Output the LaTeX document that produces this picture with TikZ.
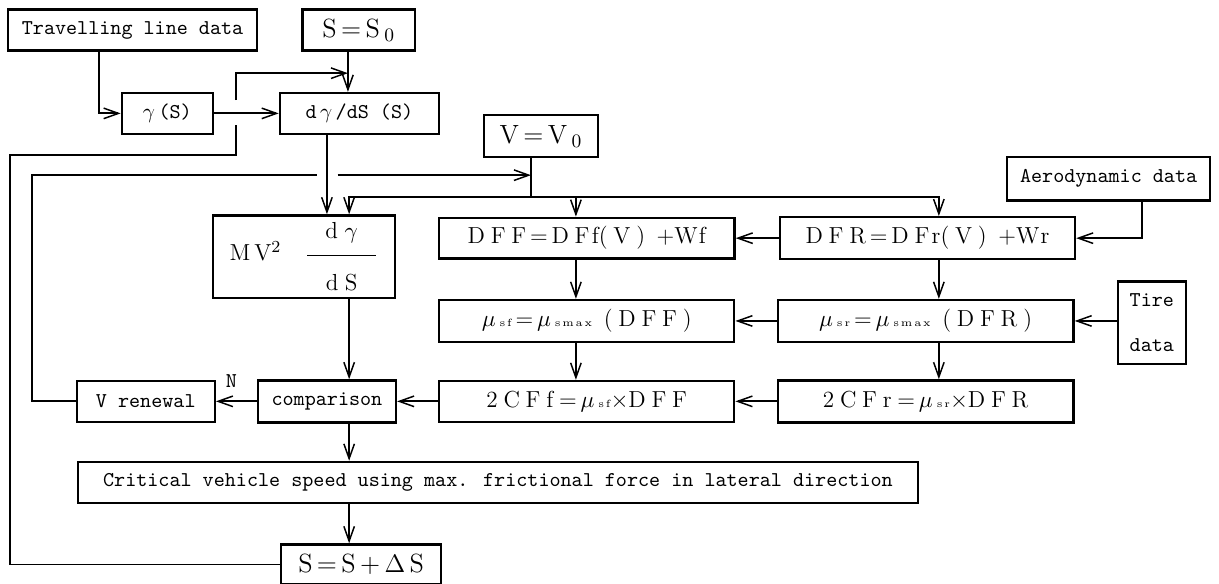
\documentclass[tikz,border=0pt]{standalone}
\usepackage{amsmath}
\usepackage{tikz}
\usetikzlibrary{arrows.meta}
\newcommand{\ls}{\hspace{0.25em}}
\newcommand{\sbx}[1]{{\tiny #1}}

\begin{document}
\begin{tikzpicture}[
    line width=0.9pt,
    box/.style={draw,line width=1.1pt,inner sep=2pt,minimum height=0.68cm},
    ttbox/.style={box,font=\ttfamily},
    eqbox/.style={box,font=\fontsize{11}{13}\selectfont},
    bigbox/.style={box,font=\fontsize{12.5}{15}\selectfont},
    flow/.style={-{Straight Barb[length=7pt,width=5pt,line width=0.7pt]}},
  ]
  \useasboundingbox (0,0) rectangle (20.32,-9.72);

  % input and S loop
  \node[ttbox,minimum width=4.15cm] (tld)  at (2.21,-0.50) {Travelling line data};
  \node[bigbox,minimum width=1.87cm] (s0)  at (5.98,-0.50) {S\,=\,S\,$_{0}$};
  \node[ttbox,minimum width=1.52cm] (gam)  at (2.79,-1.89) {$\gamma$\,(S)};
  \node[ttbox,minimum width=2.65cm] (dgam) at (5.99,-1.89) {d\,$\gamma$\,/dS (S)};
  \node[bigbox,minimum width=1.90cm,minimum height=0.70cm] (v0) at (9.02,-2.27) {V\,=\,V\,$_{0}$};
  \node[ttbox,minimum width=3.38cm,minimum height=0.72cm] (aero) at (18.48,-2.98) {Aerodynamic data};

  % force chain
  \node[eqbox,minimum width=3.03cm,minimum height=1.38cm] (mv) at (5.07,-4.28)
    {M\,V$^{2}$\quad$\dfrac{\makebox[1.15cm]{d\;$\gamma$}\rule[-1.3ex]{0pt}{0pt}}{\rule{0pt}{3.2ex}\text{d\;S}}$};
  \node[eqbox,minimum width=4.93cm] (dff) at (9.78,-3.97)
    {D\ls F\ls F\,=\,D\ls F\hspace{0.1em}f(\ls V\ls)\enspace+W\hspace{0.05em}f};
  \node[eqbox,minimum width=4.92cm,minimum height=0.70cm] (dfr) at (15.46,-3.97)
    {D\ls F\ls R\,=\,D\ls F\hspace{0.1em}r(\ls V\ls)\enspace+W\hspace{0.05em}r};
  \node[eqbox,minimum width=4.92cm,minimum height=0.70cm] (msf) at (9.78,-5.35)
    {$\mu$\,\sbx{s\,f}\,=\,$\mu$\,\sbx{s\,m\,a\,x}\enspace(\ls D\ls F\ls F\ls)};
  \node[eqbox,minimum width=4.93cm,minimum height=0.70cm] (msr) at (15.43,-5.35)
    {$\mu$\,\sbx{s\,r}\,=\,$\mu$\,\sbx{s\,m\,a\,x}\enspace(\ls D\ls F\ls R\ls)};
  \node[ttbox,minimum width=1.13cm,minimum height=1.38cm,align=center] (tire) at (19.20,-5.38)
    {Tire\\[9pt]data};
  \node[ttbox,minimum width=2.30cm] (vren) at (2.43,-6.69) {V renewal};
  \node[ttbox,minimum width=2.30cm,minimum height=0.70cm] (comp) at (5.45,-6.69) {comparison};
  \node[eqbox,minimum width=4.92cm] (cff) at (9.78,-6.69)
    {2\ls C\ls F\ls f\ls=\,$\mu$\,\sbx{s\,f}$\times$D\ls F\ls F};
  \node[eqbox,minimum width=4.93cm,minimum height=0.70cm] (cfr) at (15.43,-6.69)
    {2\ls C\ls F\ls r\ls=\,$\mu$\,\sbx{s\,r}$\times$D\ls F\ls R};
  \node[ttbox,minimum width=14.0cm] (crit) at (8.30,-8.04)
    {Critical vehicle speed using max. frictional force in lateral direction};
  \node[bigbox,minimum width=2.67cm,minimum height=0.67cm] (snew) at (6.02,-9.41) {S\,=\,S\,+\,$\Delta$\,S};

  % line columns
  \coordinate (cA) at (5.82,0);
  \coordinate (cB) at (9.60,0);
  \coordinate (cC) at (15.65,0);
  \coordinate (cD) at (5.45,0);
  \coordinate (sleft) at (0.17,-2.58);
  \coordinate (jmpa) at (3.93,-2.08);
  \coordinate (jmpb) at (3.93,-1.67);
  \coordinate (sin)  at (5.80,-1.22);
  \coordinate (vleft) at (0.53,-2.92);
  \coordinate (gapa) at (5.28,-2.92);
  \coordinate (gapb) at (5.63,-2.92);
  \coordinate (vin)  at (8.85,-2.92);
  \coordinate (vbus) at (8.85,-3.28);

  \draw[flow] ([xshift=-0.56cm]tld.south) |- (gam.west);
  \draw[flow] (gam.east) -- (dgam.west);
  \draw[flow] (s0.south -| sin) -- (dgam.north -| sin);
  \draw (snew.west) -| (sleft) -| (jmpa);
  \draw[flow] (jmpb) |- (sin);
  \draw[flow] (dgam.south -| cD) -- (mv.north -| cD);

  \draw (vren.west) -| (vleft) -- (gapa);
  \draw[flow] (gapb) -- (vin);
  \draw (v0.south -| vin) -- (vbus);
  \draw[flow] (vbus) -| (mv.north -| cA);
  \draw[flow] (vbus) -| (dff.north -| cB);
  \draw[flow] (vbus) -| (dfr.north -| cC);

  \draw[flow] ([xshift=0.55cm]aero.south) |- (dfr.east);
  \draw[flow] (dfr.west) -- (dff.east);
  \draw[flow] (dff.south -| cB) -- (msf.north -| cB);
  \draw[flow] (dfr.south -| cC) -- (msr.north -| cC);
  \draw[flow] (tire.west |- msr) -- (msr.east);
  \draw[flow] (msr.west) -- (msf.east);
  \draw[flow] (msf.south -| cB) -- (cff.north -| cB);
  \draw[flow] (msr.south -| cC) -- (cfr.north -| cC);
  \draw[flow] (cfr.west) -- (cff.east);
  \draw[flow] (cff.west) -- (comp.east);
  \draw[flow] (mv.south -| cA) -- (comp.north -| cA);
  \draw[flow] (comp.west) -- node[pos=0.62,above,yshift=1mm,font=\ttfamily] {N} (vren.east);
  \draw[flow] (comp.south -| cA) -- (crit.north -| cA);
  \draw[flow] (crit.south -| cA) -- (snew.north -| cA);
\end{tikzpicture}
\end{document}
